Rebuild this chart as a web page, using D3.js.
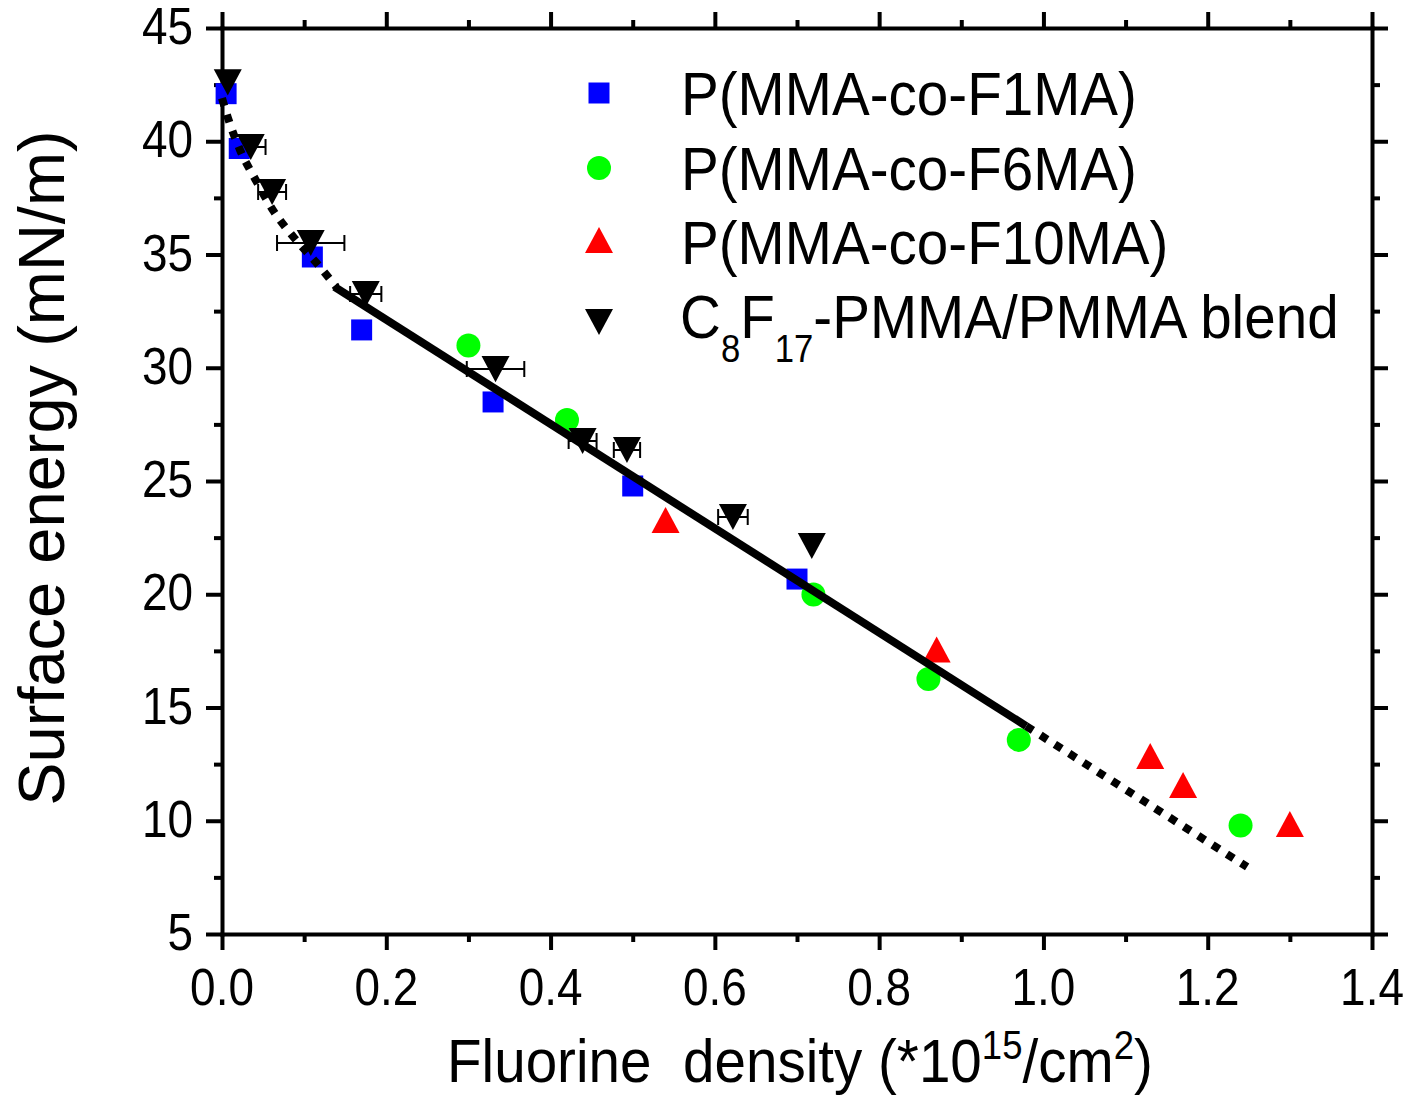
<!DOCTYPE html>
<html><head><meta charset="utf-8">
<script src="https://cdn.jsdelivr.net/npm/d3@7"></script>
<style>
body{margin:0;background:#fff}
svg{display:block}
text{font-family:"Liberation Sans", Arial, sans-serif; fill:#000}
</style>
</head><body>
<svg id="c" width="1409" height="1096"></svg>
<script>
// ---------- data ----------
const seriesNames = ["P(MMA-co-F1MA)", "P(MMA-co-F6MA)", "P(MMA-co-F10MA)", "C8F17-PMMA/PMMA blend"];
const f1maX = [0.005, 0.021, 0.110, 0.170, 0.330, 0.500, 0.700];
const f1maY = [42.1, 39.68, 34.89, 31.67, 28.49, 24.78, 20.67];
const f6maX = [0.300, 0.420, 0.720, 0.860, 0.970, 1.240];
const f6maY = [30.98, 27.69, 19.99, 16.26, 13.57, 9.79];
const f10maX = [0.540, 0.870, 1.130, 1.170, 1.300];
const f10maY = [23.28, 17.56, 12.86, 11.58, 9.86];
const blendX = [0.007, 0.035, 0.061, 0.108, 0.175, 0.333, 0.439, 0.493, 0.622, 0.718];
const blendY = [42.6, 39.75, 37.76, 35.51, 33.26, 29.94, 26.77, 26.37, 23.41, 22.13];
const blendXErr = [0, 0.018, 0.017, 0.041, 0.019, 0.035, 0.017, 0.016, 0.018, 0];
// linear fit (solid) and dotted extensions
const fitX = [0.137, 0.979];
const fitY = [33.57, 14.18];
const extX = [0.979, 1.248];
const extY = [14.18, 7.96];
const lowX = [0.0, 0.0085, 0.022, 0.041, 0.062, 0.088, 0.114, 0.139];
const lowY = [41.9, 40.89, 39.61, 38.29, 36.96, 35.73, 34.67, 33.57];
// ticks
const xTicks = [0, 0.2, 0.4, 0.6, 0.8, 1.0, 1.2, 1.4];
const xTickLabels = ["0.0", "0.2", "0.4", "0.6", "0.8", "1.0", "1.2", "1.4"];
const xMinor = [0.1, 0.3, 0.5, 0.7, 0.9, 1.1, 1.3];
const yTicks = [5, 10, 15, 20, 25, 30, 35, 40, 45];
const yTickLabels = ["5", "10", "15", "20", "25", "30", "35", "40", "45"];
const yMinor = [7.5, 12.5, 17.5, 22.5, 27.5, 32.5, 37.5, 42.5];

// ---------- layout ----------
const L = 222, R = 1372, T = 28, B = 934;
const svg = d3.select("#c");
const x = d3.scaleLinear().domain([0, 1.4]).range([L, R]);
const y = d3.scaleLinear().domain([5, 45]).range([B, T]);
const SX = 0.9;    // tick label compression
const SXT = 0.913; // title / legend compression

function txt(parent, px, py, anchor, size, sx) {
  return parent.append("text")
    .attr("transform", `translate(${px},${py}) scale(${sx},1)`)
    .attr("text-anchor", anchor)
    .style("font-size", size + "px");
}

// ---------- axes ----------
function styleAxis(g) {
  g.select(".domain").attr("stroke", "#000").attr("stroke-width", 4).attr("stroke-linecap", "square");
  g.selectAll(".tick line").attr("stroke", "#000").attr("stroke-width", 4);
  g.selectAll(".tick text").remove();
}
// minor ticks
[[d3.axisBottom(x), `translate(0,${B})`, xMinor],
 [d3.axisTop(x), `translate(0,${T})`, xMinor],
 [d3.axisLeft(y), `translate(${L},0)`, yMinor],
 [d3.axisRight(y), `translate(${R},0)`, yMinor]].forEach(([ax, tr, vals]) => {
  const g = svg.append("g").attr("transform", tr)
    .call(ax.tickValues(vals).tickSize(8).tickSizeOuter(0).tickFormat(""));
  styleAxis(g);
  g.select(".domain").remove();
});
// major ticks + axis lines
[[d3.axisBottom(x), `translate(0,${B})`, xTicks],
 [d3.axisTop(x), `translate(0,${T})`, xTicks],
 [d3.axisLeft(y), `translate(${L},0)`, yTicks],
 [d3.axisRight(y), `translate(${R},0)`, yTicks]].forEach(([ax, tr, vals]) => {
  const g = svg.append("g").attr("transform", tr)
    .call(ax.tickValues(vals).tickSize(16).tickSizeOuter(0).tickFormat(""));
  styleAxis(g);
});

// tick labels
xTicks.forEach((v, i) => txt(svg, x(v), 1005, "middle", 51, SX).text(xTickLabels[i]));
yTicks.forEach((v, i) => txt(svg, 193, y(v) + 16, "end", 51, SX).text(yTickLabels[i]));

// axis titles
const xt = txt(svg, 447, 1082, "start", 62, SXT);
xt.append("tspan").text("Fluorine\u00a0\u00a0density (*10");
xt.append("tspan").attr("dy", -23).style("font-size", "40px").text("15");
xt.append("tspan").attr("dy", 23).text("/cm");
xt.append("tspan").attr("dy", -23).style("font-size", "40px").text("2");
xt.append("tspan").attr("dy", 23).text(")");

svg.append("text")
  .attr("transform", `translate(64,468) rotate(-90)`)
  .attr("text-anchor", "middle")
  .style("font-size", "65px")
  .text("Surface energy (mN/m)");

// ---------- symbols ----------
const symSquare = { draw(ctx, s) { ctx.rect(-s / 2, -s / 2, s, s); } };
const symCircle = { draw(ctx, s) { const r = s / 2; ctx.moveTo(r, 0); ctx.arc(0, 0, r, 0, 2 * Math.PI); } };
const symUp = { draw(ctx, s) { const h = s * 0.93; ctx.moveTo(0, -h / 2); ctx.lineTo(s / 2, h / 2); ctx.lineTo(-s / 2, h / 2); ctx.closePath(); } };
const symDown = { draw(ctx, s) { const h = s * 0.93; ctx.moveTo(0, h / 2); ctx.lineTo(s / 2, -h / 2); ctx.lineTo(-s / 2, -h / 2); ctx.closePath(); } };
const series = [
  { xs: f1maX, ys: f1maY, type: symSquare, size: 21, color: "#0000ff" },
  { xs: f6maX, ys: f6maY, type: symCircle, size: 24, color: "#00ff00" },
  { xs: f10maX, ys: f10maY, type: symUp, size: 28, color: "#ff0000" },
  { xs: blendX, ys: blendY, type: symDown, size: 28, color: "#000000" }
];

// error bars
const eb = svg.append("g").attr("stroke", "#000").attr("stroke-width", 2).attr("fill", "none");
blendX.forEach((v, i) => {
  const e = blendXErr[i];
  if (!e) return;
  const x0 = x(v - e), x1 = x(v + e), yy = y(blendY[i]);
  eb.append("path").attr("d", `M${x0},${yy}H${x1}M${x0},${yy - 8}V${yy + 8}M${x1},${yy - 8}V${yy + 8}`);
});

series.forEach(s => {
  svg.append("g").selectAll("path").data(s.xs.map((v, i) => [v, s.ys[i]])).join("path")
    .attr("transform", d => `translate(${x(d[0])},${y(d[1])})`)
    .attr("d", d3.symbol().type(s.type).size(s.size)())
    .attr("fill", s.color);
});

// ---------- lines ----------
const toPts = (xs, ys) => xs.map((v, i) => [v, ys[i]]);
svg.append("path").attr("d", d3.line().x(d => x(d[0])).y(d => y(d[1])).curve(d3.curveMonotoneX)(toPts(lowX, lowY)))
  .attr("fill", "none").attr("stroke", "#000").attr("stroke-width", 8).attr("stroke-dasharray", "8,9");
svg.append("path").attr("d", d3.line().x(d => x(d[0])).y(d => y(d[1]))(toPts(extX, extY)))
  .attr("fill", "none").attr("stroke", "#000").attr("stroke-width", 8).attr("stroke-dasharray", "8,9");
svg.append("path").attr("d", d3.line().x(d => x(d[0])).y(d => y(d[1]))(toPts(fitX, fitY)))
  .attr("fill", "none").attr("stroke", "#000").attr("stroke-width", 8);

// ---------- legend ----------
const legY = [93, 168, 240, 322];
const baseY = [115, 190, 264, 338];
series.forEach((s, i) => {
  svg.append("path").attr("transform", `translate(599,${legY[i]})`)
    .attr("d", d3.symbol().type(s.type).size(s.size)()).attr("fill", s.color);
});
[0, 1, 2].forEach(i => txt(svg, 681, baseY[i], "start", 62, SXT).text(seriesNames[i]));
const lt = txt(svg, 680, baseY[3], "start", 62, SXT);
lt.append("tspan").text("C");
lt.append("tspan").attr("dy", 24).style("font-size", "38px").text("8");
lt.append("tspan").attr("dy", -24).text("F");
lt.append("tspan").attr("dy", 24).style("font-size", "38px").text("17");
lt.append("tspan").attr("dy", -24).text("-PMMA/PMMA blend");
</script>
</body></html>
